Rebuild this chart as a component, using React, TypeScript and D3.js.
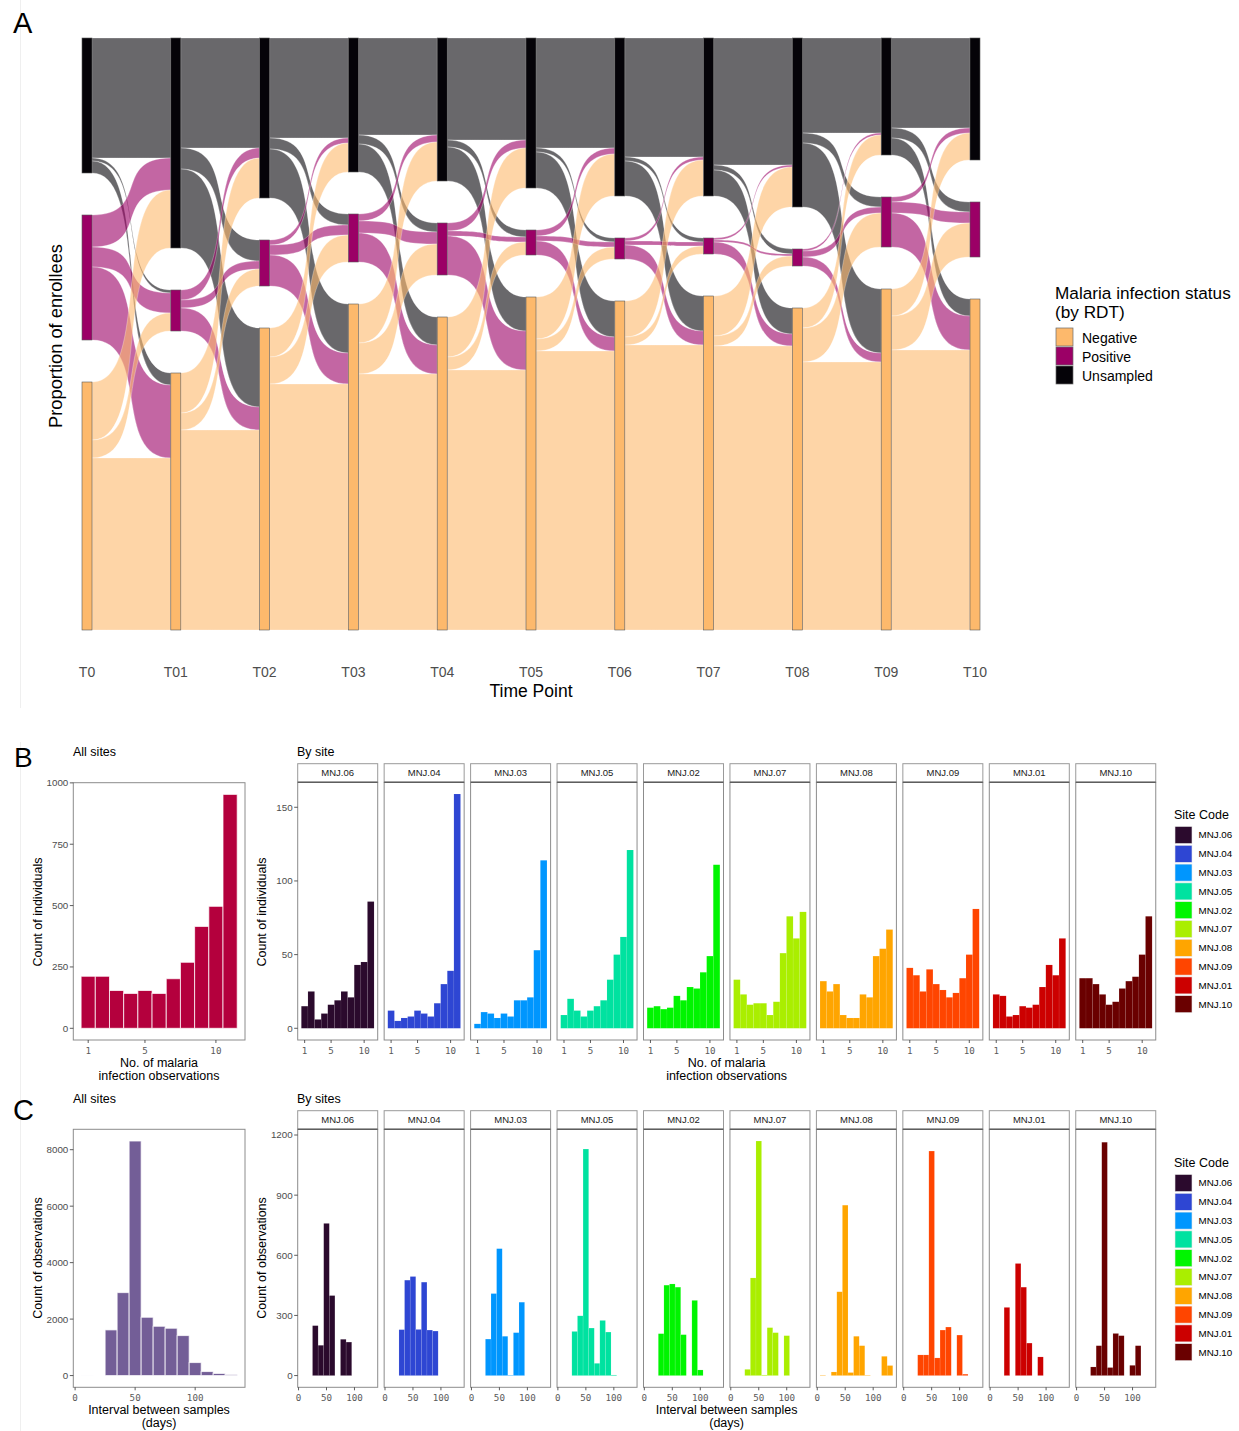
import React from "react";
import * as d3 from "d3";

// ---------- Panel A: alluvial of RDT status over time ----------
const timePoints = ["T0", "T01", "T02", "T03", "T04", "T05", "T06", "T07", "T08", "T09", "T10"];
const statusLevels = ["Unsampled", "Positive", "Negative"]; // stacked top to bottom
const legendLevels = ["Negative", "Positive", "Unsampled"];
const statusColors: Record<string, string> = {
  Unsampled: "#050308",
  Positive: "#9b0066",
  Negative: "#fdb96c",
};

// Flows between consecutive time points (T0→T01, T01→T02, ... T09→T10)
const unsampledToUnsampled = [120, 110, 100, 97, 102, 110, 119, 127, 95, 90];
const unsampledToPositive = [3, 21, 11, 9, 7, 4, 4, 5, 10, 10];
const unsampledToNegative = [12, 79, 49, 28, 34, 36, 35, 26, 64, 17];
const positiveToUnsampled = [32, 10, 5, 7, 8, 6, 3, 2, 2, 5];
const positiveToPositive = [20, 8, 10, 12, 5, 5, 4, 2, 6, 11];
const positiveToNegative = [73, 23, 31, 29, 39, 14, 14, 12, 9, 34];
const negativeToUnsampled = [58, 40, 29, 39, 40, 42, 36, 40, 20, 27];
const negativeToPositive = [18, 17, 27, 31, 13, 12, 8, 10, 34, 34];
const negativeToNegative = [172, 200, 246, 256, 260, 279, 285, 284, 268, 280];

// ---------- Panel B: number of malaria infection observations ----------
const observationCounts = [1, 2, 3, 4, 5, 6, 7, 8, 9, 10, 11];
const allSitesObservations = [212, 212, 154, 142, 154, 142, 202, 269, 415, 497, 953];

const siteCodes = ["MNJ.06", "MNJ.04", "MNJ.03", "MNJ.05", "MNJ.02", "MNJ.07", "MNJ.08", "MNJ.09", "MNJ.01", "MNJ.10"];
const siteColors = ["#2b0a2d", "#2e46d3", "#0096fe", "#00e2a0", "#00f500", "#aaee00", "#ffa500", "#ff4500", "#cc0000", "#6a0000"];

const observationsMNJ06 = [15, 25, 6, 10, 16, 19, 25, 21, 43, 45, 86];
const observationsMNJ04 = [12, 5, 7, 8, 12, 10, 8, 17, 30, 39, 159];
const observationsMNJ03 = [3, 11, 10, 7, 10, 8, 19, 19, 21, 53, 114];
const observationsMNJ05 = [9, 20, 12, 8, 12, 15, 19, 33, 50, 62, 121];
const observationsMNJ02 = [14, 15, 13, 14, 22, 19, 28, 27, 38, 49, 111];
const observationsMNJ07 = [33, 23, 16, 17, 17, 9, 18, 51, 76, 61, 79];
const observationsMNJ08 = [32, 25, 30, 9, 7, 7, 23, 21, 49, 54, 67];
const observationsMNJ09 = [41, 36, 25, 40, 30, 26, 21, 24, 34, 50, 81];
const observationsMNJ01 = [23, 22, 8, 9, 15, 14, 16, 28, 43, 36, 61];
const observationsMNJ10 = [34, 34, 30, 23, 16, 18, 27, 32, 35, 50, 76];

// ---------- Panel C: interval between samples (days), 10-day bins ----------
const intervalBins = [10, 20, 30, 40, 50, 60, 70, 80, 90, 100, 110, 120, 130];
const allSitesIntervals = [2, 0, 1617, 2938, 8307, 2065, 1746, 1676, 1416, 460, 142, 75, 35];

const intervalsMNJ06 = [0, 0, 249, 151, 759, 399, 0, 181, 167, 0, 0, 0, 0];
const intervalsMNJ04 = [0, 0, 229, 476, 494, 230, 466, 227, 222, 0, 0, 0, 0];
const intervalsMNJ03 = [0, 0, 182, 409, 633, 196, 2, 214, 366, 0, 0, 0, 0];
const intervalsMNJ05 = [0, 0, 220, 298, 1130, 237, 61, 275, 217, 3, 0, 0, 0];
const intervalsMNJ02 = [0, 0, 209, 451, 457, 441, 204, 0, 375, 28, 0, 0, 0];
const intervalsMNJ07 = [0, 0, 31, 487, 1170, 3, 239, 214, 0, 199, 0, 0, 0];
const intervalsMNJ08 = [2, 0, 18, 418, 850, 15, 196, 149, 2, 0, 0, 96, 50];
const intervalsMNJ09 = [0, 0, 103, 103, 1120, 88, 227, 242, 0, 202, 7, 0, 0];
const intervalsMNJ01 = [0, 0, 340, 0, 559, 441, 162, 0, 93, 0, 0, 0, 0];
const intervalsMNJ10 = [0, 0, 43, 149, 1164, 40, 210, 199, 0, 51, 149, 0, 0];

const observationsBySite = [
  observationsMNJ06, observationsMNJ04, observationsMNJ03, observationsMNJ05, observationsMNJ02,
  observationsMNJ07, observationsMNJ08, observationsMNJ09, observationsMNJ01, observationsMNJ10,
];
const intervalsBySite = [
  intervalsMNJ06, intervalsMNJ04, intervalsMNJ03, intervalsMNJ05, intervalsMNJ02,
  intervalsMNJ07, intervalsMNJ08, intervalsMNJ09, intervalsMNJ01, intervalsMNJ10,
];

const SANS = "'Liberation Sans', Arial, Helvetica, sans-serif";
const MONO = "'DejaVu Sans Mono', monospace";
const TICK_GREY = "#4d4d4d";

// ---------- Alluvial ----------
function Alluvial() {
  const flowTable = [
    [unsampledToUnsampled, unsampledToPositive, unsampledToNegative],
    [positiveToUnsampled, positiveToPositive, positiveToNegative],
    [negativeToUnsampled, negativeToPositive, negativeToNegative],
  ];
  const nT = timePoints.length;
  const nS = statusLevels.length;
  const sizes = timePoints.map((_, t) =>
    statusLevels.map((_, s) =>
      t < nT - 1
        ? d3.sum(flowTable[s].map((arr) => arr[t]))
        : d3.sum(flowTable.map((row) => row[s][t - 1]))
    )
  );
  const total = d3.sum(sizes[0]);
  const gapUnits = total * (42 / 508);
  const y = d3.scaleLinear().domain([0, total + 2 * gapUnits]).range([38, 630]);
  const x = d3.scalePoint<string>().domain(timePoints).range([87, 975]);
  const halfW = 5;
  const knot = 0.75; // control-point reach of each flow curve

  const topUnits = sizes.map((row) => row.map((_, s) => d3.sum(row.slice(0, s)) + s * gapUnits));

  const flows: { d: string; fill: string; key: string }[] = [];
  for (let t = 0; t < nT - 1; t++) {
    const x0 = (x(timePoints[t]) as number) + halfW;
    const x1 = (x(timePoints[t + 1]) as number) - halfW;
    const c0 = x0 + knot * (x1 - x0);
    const c1 = x1 - knot * (x1 - x0);
    for (let s = 0; s < nS; s++) {
      for (let d = 0; d < nS; d++) {
        const v = flowTable[s][d][t];
        if (v <= 0) continue;
        let srcOff = 0;
        for (let k = 0; k < d; k++) srcOff += flowTable[s][k][t];
        let dstOff = 0;
        for (let k = 0; k < s; k++) dstOff += flowTable[k][d][t];
        const s0 = y(topUnits[t][s] + srcOff);
        const s1 = y(topUnits[t][s] + srcOff + v);
        const d0 = y(topUnits[t + 1][d] + dstOff);
        const d1 = y(topUnits[t + 1][d] + dstOff + v);
        const path =
          `M${x0},${s0}C${c0},${s0} ${c1},${d0} ${x1},${d0}` +
          `L${x1},${d1}C${c1},${d1} ${c0},${s1} ${x0},${s1}Z`;
        flows.push({ d: path, fill: statusColors[statusLevels[s]], key: `${t}-${s}-${d}` });
      }
    }
  }

  return (
    <g>
      <g>
        {flows.map((f) => (
          <path key={f.key} d={f.d} fill={f.fill} fillOpacity={0.6} stroke="#ffffff" strokeOpacity={0.55} strokeWidth={0.5} />
        ))}
      </g>
      <g>
        {timePoints.map((tp, t) =>
          statusLevels.map((st, s) => (
            <rect
              key={`${tp}-${st}`}
              x={(x(tp) as number) - halfW}
              y={y(topUnits[t][s])}
              width={halfW * 2}
              height={y(topUnits[t][s] + sizes[t][s]) - y(topUnits[t][s])}
              fill={statusColors[st]}
              stroke="#5a5a5a"
              strokeWidth={0.6}
            />
          ))
        )}
      </g>
      {timePoints.map((tp) => (
        <text key={tp} x={x(tp)} y={677} textAnchor="middle" fontFamily={SANS} fontSize={14} fill={TICK_GREY}>
          {tp}
        </text>
      ))}
      <text x={531} y={697} textAnchor="middle" fontFamily={SANS} fontSize={17.5} fill="#000">
        Time Point
      </text>
      <text transform="translate(62,336) rotate(-90)" textAnchor="middle" fontFamily={SANS} fontSize={18.3} fill="#000">
        Proportion of enrollees
      </text>
      {/* legend */}
      <text x={1055} y={299} fontFamily={SANS} fontSize={17.2} fill="#000">Malaria infection status</text>
      <text x={1055} y={318} fontFamily={SANS} fontSize={17.2} fill="#000">(by RDT)</text>
      {legendLevels.map((lv, i) => (
        <g key={lv}>
          <rect x={1056} y={328 + i * 19} width={17} height={18} fill={statusColors[lv]} stroke="#6a6a6a" strokeWidth={0.7} />
          <text x={1082} y={342.5 + i * 19} fontFamily={SANS} fontSize={14} fill="#000">{lv}</text>
        </g>
      ))}
    </g>
  );
}

// ---------- Histogram panel ----------
type HistProps = {
  left: number;
  right: number;
  top: number;
  bottom: number;
  xDomain: [number, number];
  yDomain: [number, number];
  bins: number[];
  counts: number[];
  halfWidth: number;
  fill: string;
  xTicks: number[];
  yTicks: number[] | null;
  strokeOpacity: number;
  strokeWidth: number;
};

function HistPanel(p: HistProps) {
  const x = d3.scaleLinear().domain(p.xDomain).range([p.left, p.right]);
  const y = d3.scaleLinear().domain(p.yDomain).range([p.bottom, p.top]);
  return (
    <g>
      <rect x={p.left} y={p.top} width={p.right - p.left} height={p.bottom - p.top} fill="#fff" />
      {p.bins.map((b, i) =>
        p.counts[i] > 0 ? (
          <rect
            key={b}
            x={x(b - p.halfWidth)}
            y={y(p.counts[i])}
            width={x(b + p.halfWidth) - x(b - p.halfWidth)}
            height={y(0) - y(p.counts[i])}
            fill={p.fill}
            stroke="#ffffff"
            strokeOpacity={p.strokeOpacity}
            strokeWidth={p.strokeWidth}
          />
        ) : null
      )}
      <rect x={p.left} y={p.top} width={p.right - p.left} height={p.bottom - p.top} fill="none" stroke="#8c8c8c" strokeWidth={1} />
      {p.xTicks.map((t) => (
        <g key={t}>
          <line x1={x(t)} x2={x(t)} y1={p.bottom} y2={p.bottom + 3} stroke="#333" strokeWidth={0.8} />
          <text x={x(t)} y={p.bottom + 13.5} textAnchor="middle" fontFamily={MONO} fontSize={9.2} fill="#5a5a5a">
            {t}
          </text>
        </g>
      ))}
      {p.yTicks
        ? p.yTicks.map((t) => (
            <g key={t}>
              <line x1={p.left - 3.5} x2={p.left} y1={y(t)} y2={y(t)} stroke="#333" strokeWidth={0.8} />
              <text x={p.left - 5} y={y(t)} dy="0.35em" textAnchor="end" fontFamily={SANS} fontSize={9.8} fill={TICK_GREY}>
                {t}
              </text>
            </g>
          ))
        : null}
    </g>
  );
}

function Strip({ left, right, top, bottom, label }: { left: number; right: number; top: number; bottom: number; label: string }) {
  return (
    <g>
      <rect x={left} y={top} width={right - left} height={bottom - top} fill="#fff" stroke="#9a9a9a" strokeWidth={1} />
      <line x1={left} x2={right} y1={bottom} y2={bottom} stroke="#5e5e5e" strokeWidth={1.6} />
      <text x={(left + right) / 2} y={(top + bottom) / 2} dy="0.35em" textAnchor="middle" fontFamily={SANS} fontSize={9.5} fill="#1a1a1a">
        {label}
      </text>
    </g>
  );
}

function SiteLegend({ top }: { top: number }) {
  return (
    <g>
      <text x={1174} y={top} fontFamily={SANS} fontSize={12.5} fill="#000">Site Code</text>
      {siteCodes.map((s, i) => (
        <g key={s}>
          <rect x={1175} y={top + 7.5 + i * 18.8} width={17} height={17} fill={siteColors[i]} stroke="#e6e6e6" strokeWidth={0.6} />
          <text x={1198.5} y={top + 16 + i * 18.8} dy="0.35em" fontFamily={SANS} fontSize={9.8} fill="#000">{s}</text>
        </g>
      ))}
    </g>
  );
}

const FACET_X0 = 297.7;
const FACET_STEP = 86.45;
const FACET_W = 80;

function maxExpanded(values: number[]): [number, number] {
  const m = d3.max(values) as number;
  return [-0.05 * m, 1.05 * m];
}

function PanelB() {
  const stripTop = 763.7;
  const panelTop = 782.3;
  const panelBottom = 1040;
  const facetMax = d3.max(observationsBySite.flat()) as number;
  const facetY: [number, number] = [-0.05 * facetMax, 1.05 * facetMax];
  const xDom: [number, number] = [-0.05, 12.05];
  return (
    <g>
      <text x={14} y={767} fontFamily={SANS} fontSize={28} fill="#000">B</text>
      <text x={73} y={756} fontFamily={SANS} fontSize={12.5} fill="#000">All sites</text>
      <text x={297} y={756} fontFamily={SANS} fontSize={12.5} fill="#000">By site</text>
      <HistPanel
        left={73.3}
        right={245}
        top={782.7}
        bottom={panelBottom}
        xDomain={xDom}
        yDomain={maxExpanded(allSitesObservations)}
        bins={observationCounts}
        counts={allSitesObservations}
        halfWidth={0.5}
        fill="#b4003d"
        xTicks={[1, 5, 10]}
        yTicks={[0, 250, 500, 750, 1000]}
        strokeOpacity={0.75}
        strokeWidth={1}
      />
      <text transform="translate(42,912) rotate(-90)" textAnchor="middle" fontFamily={SANS} fontSize={12.5} fill="#000">
        Count of individuals
      </text>
      <text x={159} y={1067} textAnchor="middle" fontFamily={SANS} fontSize={12.5} fill="#000">No. of malaria</text>
      <text x={159} y={1080} textAnchor="middle" fontFamily={SANS} fontSize={12.5} fill="#000">infection observations</text>

      {siteCodes.map((s, i) => {
        const left = FACET_X0 + i * FACET_STEP;
        return (
          <g key={s}>
            <HistPanel
              left={left}
              right={left + FACET_W}
              top={panelTop}
              bottom={panelBottom}
              xDomain={xDom}
              yDomain={facetY}
              bins={observationCounts}
              counts={observationsBySite[i]}
              halfWidth={0.5}
              fill={siteColors[i]}
              xTicks={[1, 5, 10]}
              yTicks={i === 0 ? [0, 50, 100, 150] : null}
              strokeOpacity={0.12}
              strokeWidth={0.5}
            />
            <Strip left={left} right={left + FACET_W} top={stripTop} bottom={panelTop} label={s} />
          </g>
        );
      })}
      <text transform="translate(266,912) rotate(-90)" textAnchor="middle" fontFamily={SANS} fontSize={12.5} fill="#000">
        Count of individuals
      </text>
      <text x={726.6} y={1067} textAnchor="middle" fontFamily={SANS} fontSize={12.5} fill="#000">No. of malaria</text>
      <text x={726.6} y={1080} textAnchor="middle" fontFamily={SANS} fontSize={12.5} fill="#000">infection observations</text>
      <SiteLegend top={819} />
    </g>
  );
}

function PanelC() {
  const stripTop = 1110.7;
  const panelTop = 1129.3;
  const panelBottom = 1387.3;
  const facetMax = d3.max(intervalsBySite.flat()) as number;
  const facetY: [number, number] = [-0.05 * facetMax, 1.05 * facetMax];
  const xDom: [number, number] = [-1.5, 141.5];
  return (
    <g>
      <text x={13} y={1120} fontFamily={SANS} fontSize={29} fill="#000">C</text>
      <text x={73} y={1103} fontFamily={SANS} fontSize={12.5} fill="#000">All sites</text>
      <text x={297} y={1103} fontFamily={SANS} fontSize={12.5} fill="#000">By sites</text>
      <HistPanel
        left={73.3}
        right={245}
        top={panelTop}
        bottom={panelBottom}
        xDomain={xDom}
        yDomain={maxExpanded(allSitesIntervals)}
        bins={intervalBins}
        counts={allSitesIntervals}
        halfWidth={5}
        fill="#735e97"
        xTicks={[0, 50, 100]}
        yTicks={[0, 2000, 4000, 6000, 8000]}
        strokeOpacity={0.75}
        strokeWidth={1}
      />
      <text transform="translate(42,1258) rotate(-90)" textAnchor="middle" fontFamily={SANS} fontSize={12.5} fill="#000">
        Count of observations
      </text>
      <text x={159} y={1414} textAnchor="middle" fontFamily={SANS} fontSize={12.5} fill="#000">Interval between samples</text>
      <text x={159} y={1427} textAnchor="middle" fontFamily={SANS} fontSize={12.5} fill="#000">(days)</text>

      {siteCodes.map((s, i) => {
        const left = FACET_X0 + i * FACET_STEP;
        return (
          <g key={s}>
            <HistPanel
              left={left}
              right={left + FACET_W}
              top={panelTop}
              bottom={panelBottom}
              xDomain={xDom}
              yDomain={facetY}
              bins={intervalBins}
              counts={intervalsBySite[i]}
              halfWidth={5}
              fill={siteColors[i]}
              xTicks={[0, 50, 100]}
              yTicks={i === 0 ? [0, 300, 600, 900, 1200] : null}
              strokeOpacity={0.2}
              strokeWidth={0.5}
            />
            <Strip left={left} right={left + FACET_W} top={stripTop} bottom={panelTop} label={s} />
          </g>
        );
      })}
      <text transform="translate(266,1258) rotate(-90)" textAnchor="middle" fontFamily={SANS} fontSize={12.5} fill="#000">
        Count of observations
      </text>
      <text x={726.6} y={1414} textAnchor="middle" fontFamily={SANS} fontSize={12.5} fill="#000">Interval between samples</text>
      <text x={726.6} y={1427} textAnchor="middle" fontFamily={SANS} fontSize={12.5} fill="#000">(days)</text>
      <SiteLegend top={1167} />
    </g>
  );
}

export default function App() {
  return (
    <div style={{ position: "absolute", left: 0, top: 0 }}>
      <svg width={1239} height={1431} viewBox="0 0 1239 1431" style={{ display: "block", background: "#ffffff" }}>
        <rect x={0} y={0} width={1239} height={1431} fill="#ffffff" />
        <line x1={20.5} x2={20.5} y1={0} y2={708} stroke="#efefef" strokeWidth={1} />
        <line x1={20.5} x2={20.5} y1={742} y2={1431} stroke="#efefef" strokeWidth={1} />
        <text x={13} y={33} fontFamily={SANS} fontSize={29} fill="#000">A</text>
        <Alluvial />
        <PanelB />
        <PanelC />
      </svg>
    </div>
  );
}
